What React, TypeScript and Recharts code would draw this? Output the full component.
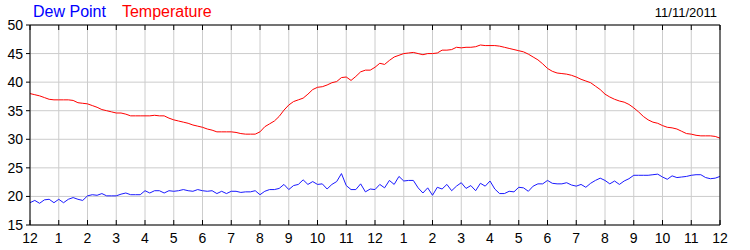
import React from 'react';
import { LineChart, Line, XAxis, YAxis, CartesianGrid } from 'recharts';

// Readings every 10 minutes, midnight to midnight (11/11/2011)
const STEP_MINUTES = 10;

const temperature = [
  38.0, 37.8, 37.6, 37.3, 37.0, 36.9,
  36.9, 36.9, 36.9, 36.8, 36.4, 36.3,
  36.2, 35.9, 35.6, 35.2, 35.0, 34.8,
  34.6, 34.6, 34.4, 34.1, 34.1, 34.1,
  34.1, 34.1, 34.2, 34.1, 34.1, 33.7,
  33.4, 33.2, 33.0, 32.8, 32.5, 32.3,
  32.1, 31.8, 31.6, 31.3, 31.3, 31.3,
  31.3, 31.2, 31.0, 30.9, 30.9, 30.9,
  31.3, 32.2, 32.7, 33.2, 34.0, 35.1,
  36.0, 36.6, 36.9, 37.2, 37.9, 38.7,
  39.1, 39.2, 39.5, 39.9, 40.1, 40.8,
  40.9, 40.3, 41.0, 41.8, 42.1, 42.1,
  42.6, 43.3, 43.1, 43.8, 44.4, 44.7,
  45.0, 45.1, 45.2, 45.0, 44.8, 45.0,
  45.0, 45.1, 45.6, 45.6, 45.7, 46.1,
  46.0, 46.1, 46.1, 46.2, 46.5, 46.4,
  46.4, 46.4, 46.3, 46.1, 45.9, 45.7,
  45.5, 45.3, 44.9, 44.4, 43.9, 43.2,
  42.4, 41.9, 41.6, 41.5, 41.4, 41.2,
  40.9, 40.5, 40.2, 39.9, 39.3, 38.7,
  37.9, 37.4, 37.0, 36.7, 36.5, 36.1,
  35.5, 34.8, 34.0, 33.4, 33.0, 32.8,
  32.4, 32.1, 32.0, 31.8, 31.4, 31.0,
  30.9, 30.7, 30.6, 30.6, 30.6, 30.5,
  30.2,
];

const dewPoint = [
  18.9, 19.3, 18.8, 19.4, 19.5, 18.9,
  19.5, 18.9, 19.5, 19.8, 19.5, 19.3,
  20.1, 20.3, 20.2, 20.5, 20.1, 20.1,
  20.1, 20.4, 20.6, 20.3, 20.3, 20.3,
  21.0, 20.6, 21.0, 21.0, 20.6, 21.0,
  20.9, 21.0, 21.2, 21.0, 20.9, 21.2,
  21.0, 20.9, 21.0, 20.5, 20.9, 20.5,
  20.9, 20.9, 20.7, 20.8, 20.8, 21.0,
  20.3, 20.9, 21.2, 21.2, 21.4, 22.1,
  21.2, 21.9, 22.1, 22.9, 22.1, 22.6,
  22.1, 22.2, 21.3, 22.1, 22.6, 24.0,
  21.9, 21.2, 21.2, 22.2, 20.8, 21.3,
  21.2, 22.1, 21.5, 22.8, 22.1, 23.5,
  22.7, 22.8, 22.8, 21.5, 20.6, 21.5,
  20.2, 21.6, 21.3, 22.1, 21.0, 21.8,
  22.4, 21.4, 21.9, 21.0, 22.3, 21.8,
  22.7, 21.3, 20.5, 20.5, 20.9, 20.8,
  21.6, 21.5, 20.9, 21.8, 22.2, 22.2,
  22.8, 22.3, 22.2, 22.2, 22.4, 22.0,
  21.8, 22.1, 21.6, 22.3, 22.8, 23.2,
  22.8, 22.2, 22.7, 22.1, 22.7, 23.1,
  23.7, 23.7, 23.7, 23.7, 23.8, 23.9,
  23.4, 23.0, 23.6, 23.3, 23.4, 23.5,
  23.7, 23.8, 23.8, 23.3, 23.1, 23.2,
  23.5,
];

const hourTicks = [0, 1, 2, 3, 4, 5, 6, 7, 8, 9, 10, 11, 12, 13, 14, 15, 16, 17, 18, 19, 20, 21, 22, 23, 24];
const valueTicks = [15, 20, 25, 30, 35, 40, 45, 50];

const chartData = temperature.map((t, i) => ({
  hour: (i * STEP_MINUTES) / 60,
  temperature: t,
  dewPoint: dewPoint[i],
}));

const clockLabel = (h: number) => String(h % 12 === 0 ? 12 : h % 12);

const tickStyle = { fontSize: 14, fill: '#000' };

export default function App() {
  return (
    <div
      style={{
        position: 'absolute',
        left: 0,
        top: 0,
        width: 750,
        height: 250,
        background: '#fff',
        fontFamily: 'Arial, "Liberation Sans", sans-serif',
      }}
    >
      <div style={{ position: 'absolute', left: 33, top: 4, fontSize: 16, lineHeight: '16px', whiteSpace: 'nowrap' }}>
        <span style={{ color: '#0000ff' }}>Dew Point</span>
        <span style={{ color: '#ff0000', marginLeft: 16 }}>Temperature</span>
      </div>
      <div style={{ position: 'absolute', right: 33, top: 6, fontSize: 13, lineHeight: '13px', color: '#000' }}>
        11/11/2011
      </div>

      <LineChart width={750} height={250} data={chartData} margin={{ top: 0, right: 0, bottom: 0, left: 0 }}>
        <CartesianGrid stroke="#cccccc" strokeWidth={1} />
        <XAxis
          dataKey="hour"
          type="number"
          domain={[0, 24]}
          ticks={hourTicks}
          tickFormatter={clockLabel}
          interval={0}
          height={25}
          axisLine={{ stroke: '#000' }}
          tickLine={{ stroke: '#000' }}
          tickSize={-5}
          tickMargin={13}
          tick={tickStyle}
        />
        <XAxis
          xAxisId="top"
          orientation="top"
          dataKey="hour"
          type="number"
          domain={[0, 24]}
          ticks={hourTicks}
          tickFormatter={() => ''}
          interval={0}
          height={25}
          axisLine={{ stroke: '#000' }}
          tickLine={{ stroke: '#000' }}
          tickSize={-5}
        />
        <YAxis
          type="number"
          domain={[15, 50]}
          ticks={valueTicks}
          interval={0}
          width={30}
          axisLine={{ stroke: '#000' }}
          tickLine={{ stroke: '#000' }}
          tickSize={4}
          tickMargin={3}
          tick={tickStyle}
        />
        <YAxis
          yAxisId="right"
          orientation="right"
          type="number"
          domain={[15, 50]}
          ticks={valueTicks}
          interval={0}
          width={30}
          axisLine={{ stroke: '#000' }}
          tickLine={{ stroke: '#000' }}
          tickSize={-5}
          tickMargin={12}
          tick={{ ...tickStyle, textAnchor: 'start' }}
        />
        <Line
          type="linear"
          dataKey="temperature"
          stroke="#ff0000"
          strokeWidth={1}
          dot={false}
          isAnimationActive={false}
        />
        <Line
          type="linear"
          dataKey="dewPoint"
          stroke="#1a1aff"
          strokeWidth={1}
          dot={false}
          isAnimationActive={false}
        />
      </LineChart>
    </div>
  );
}
